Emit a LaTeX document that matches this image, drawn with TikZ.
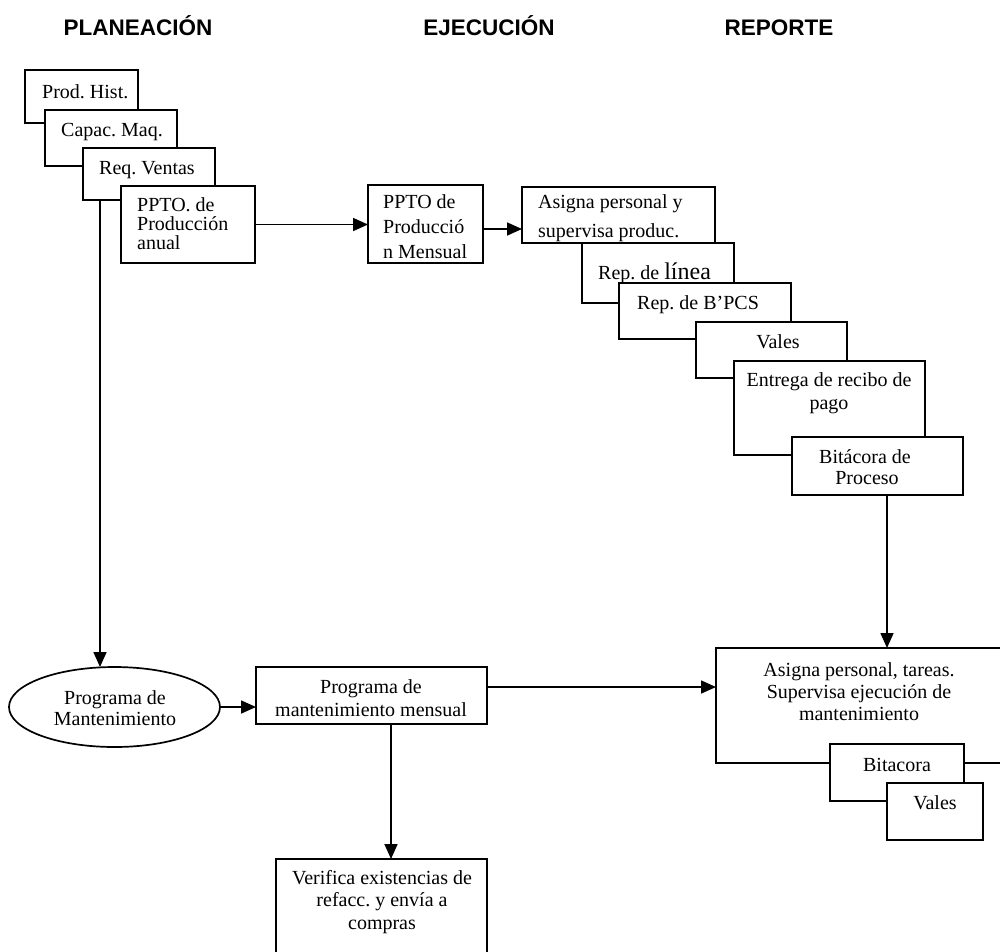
\documentclass[tikz,border=0pt]{standalone}
\usepackage{fontspec}
\setmainfont{Liberation Serif}
\newfontfamily\hdrfont{Liberation Sans}
\usetikzlibrary{arrows.meta,shapes.geometric,calc}
\newcommand\mybox[5]{\node[bx,minimum width={(#4-#2)*1pt},minimum height={(#5-#3)*1pt},anchor=north west] (#1) at (#2,-#3) {};}
\frenchspacing
\begin{document}
\begin{tikzpicture}[x=1pt,y=1pt,
  bx/.style={draw,fill=white,line width=1.7pt,inner sep=0pt,outer sep=0pt},
  txt/.style={inner sep=0pt,font=\fontsize{20}{20}\selectfont},
  hdr/.style={inner sep=0pt,anchor=base,font=\hdrfont\bfseries\fontsize{22.5}{22.5}\selectfont},
  arr/.style={line width=1.7pt,-{Triangle[length=15pt,width=13pt]}}]
\useasboundingbox (0,0) rectangle (1000,-951);
\clip (0,0) rectangle (1000,-951);
% headers
\node[hdr] (h1) at (138,-35) {PLANEACIÓN};
\node[hdr] (h2) at (489,-35) {EJECUCIÓN};
\node[hdr] (h3) at (779,-35) {REPORTE};
% planning stack
\mybox{prod}{25}{70}{138}{123}
\node[txt,anchor=base west] (tprod) at (42,-98) {Prod. Hist.};
\mybox{cap}{45}{110}{177}{166}
\node[txt,anchor=base west] (tcap) at (61,-136) {Capac. Maq.};
\mybox{req}{83}{148}{215}{200}
\node[txt,anchor=base west] (treq) at (99,-174) {Req. Ventas};
\mybox{pa}{121}{186}{255}{263}
\node[txt,anchor=base west] (tpa1) at (137,-211) {PPTO. de};
\node[txt,anchor=base west] (tpa2) at (137,-230) {Producción};
\node[txt,anchor=base west] (tpa3) at (137,-249) {anual};
% monthly budget
\mybox{pm}{368}{185}{483}{263}
\node[txt,anchor=base west] (tpm1) at (383,-208) {PPTO de};
\node[txt,anchor=base west] (tpm2) at (383,-233) {Producció};
\node[txt,anchor=base west] (tpm3) at (383,-258) {n Mensual};
% production cascade
\mybox{ay}{522}{187}{715}{243}
\node[txt,anchor=base west] (tay1) at (538,-208) {Asigna personal y};
\node[txt,anchor=base west] (tay2) at (538,-237) {supervisa produc.};
\mybox{rl}{582}{243}{734}{303}
\node[txt,anchor=base west] (trl) at (598,-279) {Rep. de {\fontsize{24}{24}\selectfont línea}};
\mybox{rb}{619}{283}{791}{339}
\node[txt,anchor=base west] (trb) at (637,-309) {Rep. de B’PCS};
\mybox{vaa}{696}{322}{847}{378}
\node[txt,anchor=base] (tvaa) at (778,-348) {Vales};
\mybox{ent}{734}{361}{925}{455}
\node[txt,anchor=base] (tent1) at (829,-386) {Entrega de recibo de};
\node[txt,anchor=base] (tent2) at (829,-409) {pago};
\mybox{bp}{792}{437}{963}{495}
\node[txt,anchor=base] (tbp1) at (865,-463) {Bitácora de};
\node[txt,anchor=base] (tbp2) at (867,-484) {Proceso};
% maintenance
\node[bx,ellipse,minimum width=211pt,minimum height=80pt] (ell) at (114.5,-707) {};
\node[txt,anchor=base] (tell1) at (115,-704) {Programa de};
\node[txt,anchor=base] (tell2) at (115,-725) {Mantenimiento};
\mybox{prog}{256}{667}{487}{724}
\node[txt,anchor=base] (tprog1) at (371,-693) {Programa de};
\node[txt,anchor=base] (tprog2) at (371,-716) {mantenimiento mensual};
\mybox{asg}{716}{648}{1004}{763}
\node[txt,anchor=base] (tasg1) at (859,-676) {Asigna personal, tareas.};
\node[txt,anchor=base] (tasg2) at (859,-698) {Supervisa ejecución de};
\node[txt,anchor=base] (tasg3) at (859,-720) {mantenimiento};
\mybox{bit}{830}{744}{964}{801}
\node[txt,anchor=base] (tbit) at (897,-771) {Bitacora};
\mybox{vab}{887}{783}{983}{840}
\node[txt,anchor=base] (tvab) at (935,-809) {Vales};
\mybox{ver}{276}{859}{487}{965}
\node[txt,anchor=base] (tver1) at (382,-884) {Verifica existencias de};
\node[txt,anchor=base] (tver2) at (382,-906) {refacc. y envía a};
\node[txt,anchor=base] (tver3) at (382,-929) {compras};
% connectors
\coordinate (v1) at ($(req.south west)+(17,0)$);
\draw[arr] (v1) -- (v1 |- ell.north);
\draw[arr] (pa.east) -- (pa.east -| pm.west);
\draw[arr] ([yshift=-5pt]pm.east) -- ([yshift=-5pt]pm.east -| ay.west);
\draw[arr] (ell.east) -- (ell.east -| prog.west);
\draw[arr] ([yshift=8.5pt]prog.east) -- ([yshift=8.5pt]prog.east -| asg.west);
\draw[arr] ([xshift=19.5pt]prog.south) -- ([xshift=19.5pt]prog.south |- ver.north);
\draw[arr] ([xshift=9.5pt]bp.south) -- ([xshift=9.5pt]bp.south |- asg.north);
\end{tikzpicture}
\end{document}
